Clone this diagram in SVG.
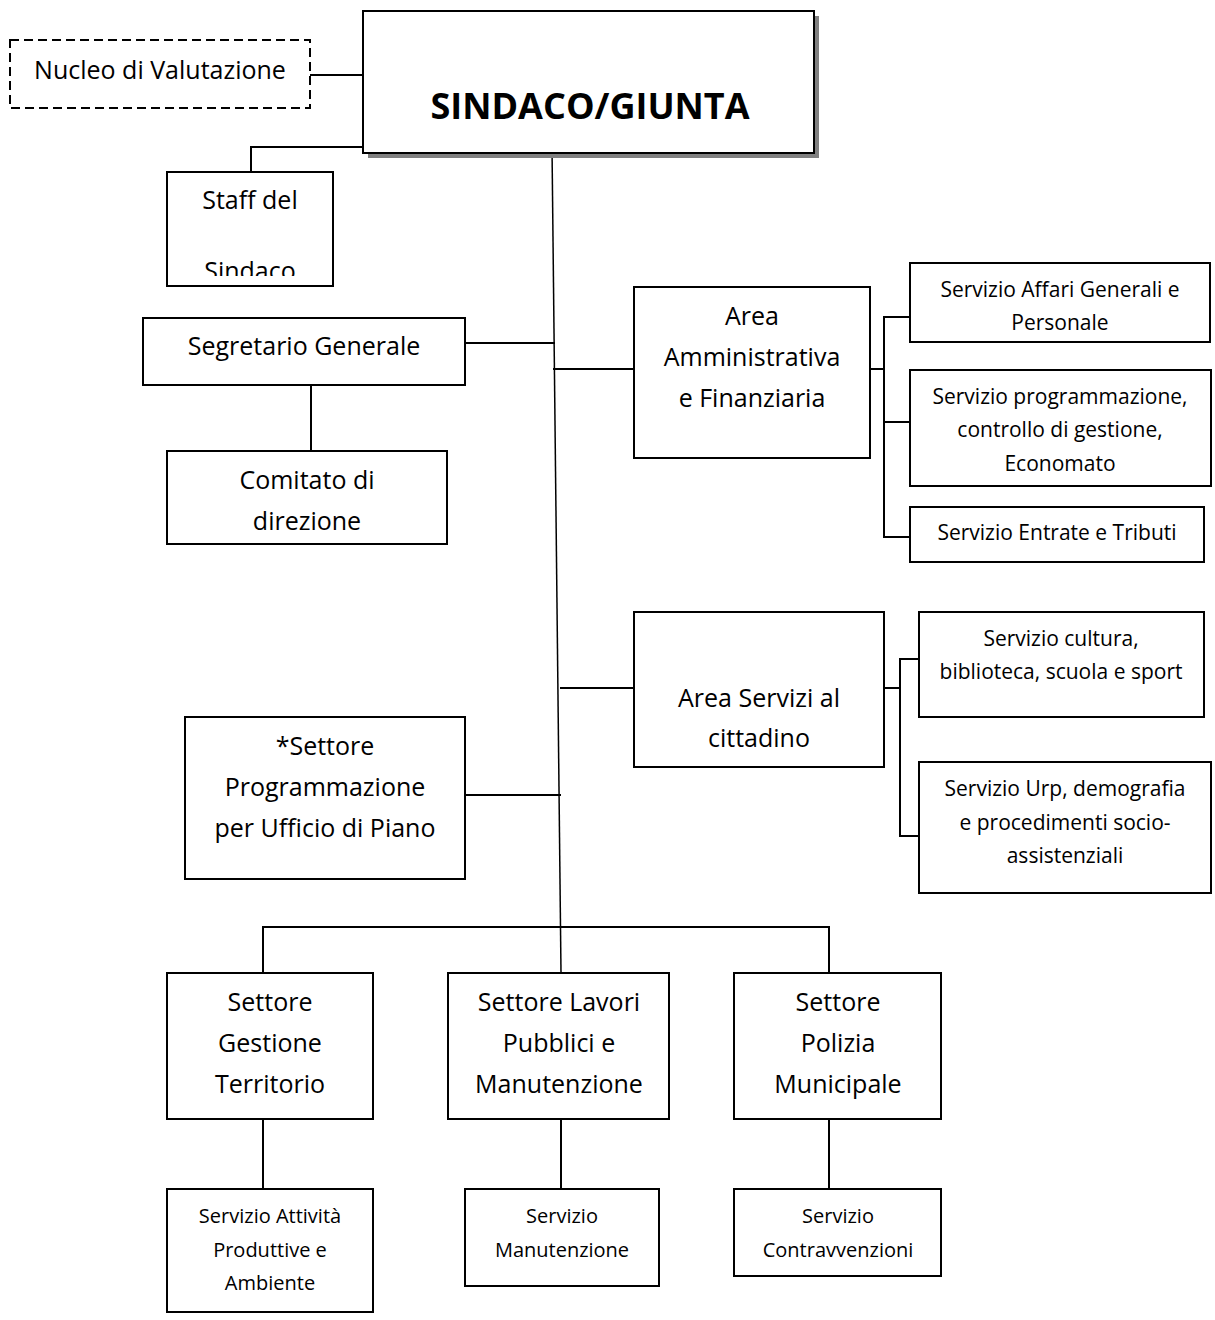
<svg xmlns="http://www.w3.org/2000/svg" width="1215" height="1320" viewBox="0 0 1215 1320">
<style>
  .box { fill: #fff; stroke: #000; stroke-width: 2; }
  .dash { fill: #fff; stroke: #000; stroke-width: 2; stroke-dasharray: 9 5; }
  .ln { fill: none; stroke: #000; stroke-width: 2; }
  .thin { fill: none; stroke: #000; stroke-width: 1.5; }
  text { font-family: "Open Sans", "Liberation Sans", sans-serif; fill: #000; text-anchor: middle; }
  .t25 { font-size: 25px; }
  .t21 { font-size: 21px; }
  .t20 { font-size: 20px; }
  .big { font-size: 36px; font-weight: bold; }
</style>
<defs>
  <clipPath id="clipStaff"><rect x="167" y="172" width="166" height="104"/></clipPath>
</defs>
<rect width="1215" height="1320" fill="#fff"/>

<g id="connectors">
  <line class="ln" x1="310" y1="75" x2="363" y2="75"/>
  <polyline class="ln" points="374,147 251,147 251,172"/>
  <line class="thin" x1="552" y1="147" x2="561" y2="972"/>
  <line class="ln" x1="465" y1="343" x2="555" y2="343"/>
  <line class="ln" x1="311" y1="385" x2="311" y2="451"/>
  <line class="ln" x1="553" y1="369" x2="634" y2="369"/>
  <line class="ln" x1="870" y1="369" x2="884" y2="369"/>
  <polyline class="ln" points="910,317 884,317 884,537 910,537"/>
  <line class="ln" x1="884" y1="422" x2="910" y2="422"/>
  <line class="ln" x1="560" y1="688" x2="634" y2="688"/>
  <line class="ln" x1="884" y1="688" x2="900" y2="688"/>
  <polyline class="ln" points="919,659 900,659 900,836 919,836"/>
  <line class="ln" x1="465" y1="795" x2="561" y2="795"/>
  <polyline class="ln" points="263,973 263,927 829,927 829,973"/>
  <line class="ln" x1="263" y1="1119" x2="263" y2="1189"/>
  <line class="ln" x1="561" y1="1119" x2="561" y2="1189"/>
  <line class="ln" x1="829" y1="1119" x2="829" y2="1189"/>
</g>

<g id="nucleo">
  <rect class="dash" x="10" y="40" width="300" height="68"/>
  <text class="t25" x="160" y="79">Nucleo di Valutazione</text>
</g>

<g id="sindaco">
  <rect x="368" y="16" width="451" height="142" fill="#808080"/>
  <rect class="box" x="363" y="11" width="451" height="142"/>
  <text class="big" x="590" y="119">SINDACO/GIUNTA</text>
</g>

<g id="staff">
  <rect class="box" x="167" y="172" width="166" height="114"/>
  <text class="t25" x="250" y="209">Staff del</text>
  <text class="t25" x="250" y="280" clip-path="url(#clipStaff)">Sindaco</text>
</g>

<g id="segretario">
  <rect class="box" x="143" y="318" width="322" height="67"/>
  <text class="t25" x="304" y="355">Segretario Generale</text>
</g>

<g id="comitato">
  <rect class="box" x="167" y="451" width="280" height="93"/>
  <text class="t25" x="307" y="489">Comitato di</text>
  <text class="t25" x="307" y="530">direzione</text>
</g>

<g id="area-amm">
  <rect class="box" x="634" y="287" width="236" height="171"/>
  <text class="t25" x="752" y="325">Area</text>
  <text class="t25" x="752" y="366">Amministrativa</text>
  <text class="t25" x="752" y="407">e Finanziaria</text>
</g>

<g id="serv-affari">
  <rect class="box" x="910" y="263" width="300" height="79"/>
  <text class="t21" x="1060" y="297">Servizio Affari Generali e</text>
  <text class="t21" x="1060" y="330">Personale</text>
</g>

<g id="serv-programmazione">
  <rect class="box" x="910" y="370" width="301" height="116"/>
  <text class="t21" x="1060" y="404">Servizio programmazione,</text>
  <text class="t21" x="1060" y="437">controllo di gestione,</text>
  <text class="t21" x="1060" y="471">Economato</text>
</g>

<g id="serv-entrate">
  <rect class="box" x="910" y="507" width="294" height="55"/>
  <text class="t21" x="1057" y="540">Servizio Entrate e Tributi</text>
</g>

<g id="area-servizi">
  <rect class="box" x="634" y="612" width="250" height="155"/>
  <text class="t25" x="759" y="707">Area Servizi al</text>
  <text class="t25" x="759" y="747">cittadino</text>
</g>

<g id="serv-cultura">
  <rect class="box" x="919" y="612" width="285" height="105"/>
  <text class="t21" x="1061" y="646">Servizio cultura,</text>
  <text class="t21" x="1061" y="679">biblioteca, scuola e sport</text>
</g>

<g id="serv-urp">
  <rect class="box" x="919" y="762" width="292" height="131"/>
  <text class="t21" x="1065" y="796">Servizio Urp, demografia</text>
  <text class="t21" x="1065" y="830">e procedimenti socio-</text>
  <text class="t21" x="1065" y="863">assistenziali</text>
</g>

<g id="settore-programmazione">
  <rect class="box" x="185" y="717" width="280" height="162"/>
  <text class="t25" x="325" y="755">*Settore</text>
  <text class="t25" x="325" y="796">Programmazione</text>
  <text class="t25" x="325" y="837">per Ufficio di Piano</text>
</g>

<g id="settore-gestione">
  <rect class="box" x="167" y="973" width="206" height="146"/>
  <text class="t25" x="270" y="1011">Settore</text>
  <text class="t25" x="270" y="1052">Gestione</text>
  <text class="t25" x="270" y="1093">Territorio</text>
</g>

<g id="settore-lavori">
  <rect class="box" x="448" y="973" width="221" height="146"/>
  <text class="t25" x="559" y="1011">Settore Lavori</text>
  <text class="t25" x="559" y="1052">Pubblici e</text>
  <text class="t25" x="559" y="1093">Manutenzione</text>
</g>

<g id="settore-polizia">
  <rect class="box" x="734" y="973" width="207" height="146"/>
  <text class="t25" x="838" y="1011">Settore</text>
  <text class="t25" x="838" y="1052">Polizia</text>
  <text class="t25" x="838" y="1093">Municipale</text>
</g>

<g id="serv-attivita">
  <rect class="box" x="167" y="1189" width="206" height="123"/>
  <text class="t20" x="270" y="1223">Servizio Attività</text>
  <text class="t20" x="270" y="1257">Produttive e</text>
  <text class="t20" x="270" y="1290">Ambiente</text>
</g>

<g id="serv-manutenzione">
  <rect class="box" x="465" y="1189" width="194" height="97"/>
  <text class="t20" x="562" y="1223">Servizio</text>
  <text class="t20" x="562" y="1257">Manutenzione</text>
</g>

<g id="serv-contravvenzioni">
  <rect class="box" x="734" y="1189" width="207" height="87"/>
  <text class="t20" x="838" y="1223">Servizio</text>
  <text class="t20" x="838" y="1257">Contravvenzioni</text>
</g>
</svg>
